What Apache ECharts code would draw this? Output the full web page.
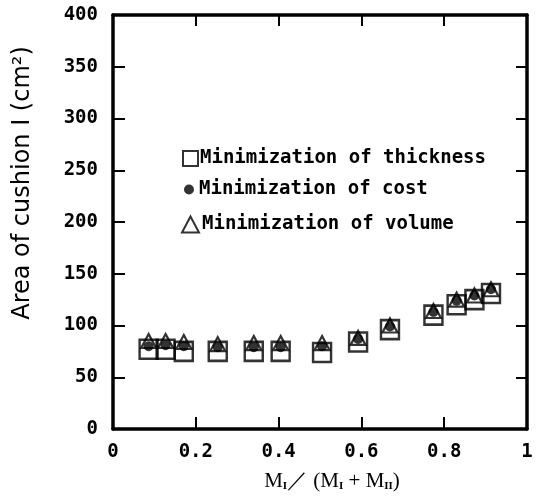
<!DOCTYPE html>
<html>
<head>
<meta charset="utf-8">
<script src="https://cdn.jsdelivr.net/npm/echarts@6/dist/echarts.min.js"></script>
<style>
  html, body { margin: 0; padding: 0; background: #fff; }
  #chart { width: 537px; height: 503px; }
</style>
</head>
<body>
<div id="chart"></div>
<script>
// Mass ratio M1/(M1+M2) for each design case
const massRatio = [0.086, 0.127, 0.171, 0.253, 0.340, 0.405, 0.505, 0.592, 0.669, 0.774, 0.830, 0.873, 0.913];
// Optimal area of cushion I (cm^2) under each objective
const areaThickness = [77, 77, 75, 75, 75, 75, 74, 84, 96, 110, 120, 125, 131];
const areaCost      = [80, 81, 80, 79, 79, 79, 80, 87, 99, 113, 124, 129, 135];
const areaVolume    = [85, 85, 84, 82, 83, 83, 83, 88, 100, 114, 125, 129, 135];

const seriesNames = ['Minimization of thickness', 'Minimization of cost', 'Minimization of volume'];
const xTickLabels = ['0', '0.2', '0.4', '0.6', '0.8', '1'];
const yTickLabels = ['0', '50', '100', '150', '200', '250', '300', '350', '400'];

const pairs = (ys) => massRatio.map((x, i) => [x, ys[i]]);

const monoBold = { fontFamily: '"DejaVu Sans Mono", monospace', fontWeight: 'bold', color: '#000' };
const frameLine = { show: true, onZero: false, lineStyle: { color: '#000', width: 3.5 } };
const innerTick = (len) => ({ show: true, inside: true, length: len, lineStyle: { color: '#000', width: 2 } });

const chart = echarts.init(document.getElementById('chart'), null, { renderer: 'canvas' });

chart.setOption({
  backgroundColor: '#fff',
  animation: false,
  grid: { left: 113, right: 10, top: 15, bottom: 74, containLabel: false },
  xAxis: [
    {
      type: 'value', min: 0, max: 1, interval: 0.2,
      axisLine: frameLine, axisTick: innerTick(12), splitLine: { show: false },
      axisLabel: Object.assign({ fontSize: 19, margin: 14,
        formatter: (v) => xTickLabels[Math.round(v * 5)] }, monoBold),
      name: 'M{s|I}\uFF0F (M{s|I} + M{s|II})',
      nameLocation: 'middle', nameGap: 42,
      nameTextStyle: {
        fontFamily: '"Liberation Serif", "DejaVu Serif", serif', fontSize: 21, color: '#000',
        padding: [0, 0, 0, 24],
        rich: {
          s: { fontFamily: '"Liberation Serif", serif', fontSize: 11, fontWeight: 'bold', color: '#000', verticalAlign: 'bottom', padding: [8, 0, 0, 0] }
        }
      }
    },
    {
      type: 'value', position: 'top', min: 0, max: 1, interval: 0.2,
      axisLine: frameLine, axisTick: innerTick(11), axisLabel: { show: false }, splitLine: { show: false }
    }
  ],
  yAxis: [
    {
      type: 'value', min: 0, max: 400, interval: 50,
      axisLine: frameLine, axisTick: innerTick(12), splitLine: { show: false },
      axisLabel: Object.assign({ fontSize: 19, margin: 15,
        formatter: (v) => yTickLabels[Math.round(v / 50)] }, monoBold),
      name: 'Area of cushion I (cm\u00B2)',
      nameLocation: 'middle', nameGap: 78, nameRotate: 90,
      nameTextStyle: {
        fontFamily: '"DejaVu Sans", sans-serif', fontSize: 24, color: '#000',
        padding: [0, 0, 0, 78]
      }
    },
    {
      type: 'value', position: 'right', min: 0, max: 400, interval: 50,
      axisLine: frameLine, axisTick: innerTick(11), axisLabel: { show: false }, splitLine: { show: false }
    }
  ],
  legend: [
    {
      data: [seriesNames[0]], left: 177, top: 144, itemWidth: 15, itemHeight: 15,
      textStyle: Object.assign({ fontSize: 19, padding: [0, 0, 0, -3] }, monoBold)
    },
    {
      data: [seriesNames[1]], left: 179, top: 175, itemWidth: 10, itemHeight: 10,
      textStyle: Object.assign({ fontSize: 19, padding: [0, 0, 0, 0] }, monoBold)
    },
    {
      data: [seriesNames[2]], left: 176, top: 210, itemWidth: 17, itemHeight: 16,
      textStyle: Object.assign({ fontSize: 19, padding: [0, 0, 0, -2] }, monoBold)
    }
  ],
  series: [
    {
      name: seriesNames[0], type: 'scatter', symbol: 'rect', symbolSize: [18, 19],
      data: pairs(areaThickness),
      itemStyle: { color: 'rgba(0,0,0,0)', borderColor: '#000', borderWidth: 2.5 },
      z: 3
    },
    {
      name: seriesNames[2], type: 'scatter', symbol: 'triangle', symbolSize: [15, 14],
      data: pairs(areaVolume),
      itemStyle: { color: 'rgba(0,0,0,0)', borderColor: '#000', borderWidth: 2.2 },
      z: 4
    },
    {
      name: seriesNames[1], type: 'scatter', symbol: 'circle', symbolSize: 10,
      data: pairs(areaCost),
      itemStyle: { color: '#000', borderWidth: 0 },
      z: 5
    }
  ]
});
</script>
</body>
</html>
